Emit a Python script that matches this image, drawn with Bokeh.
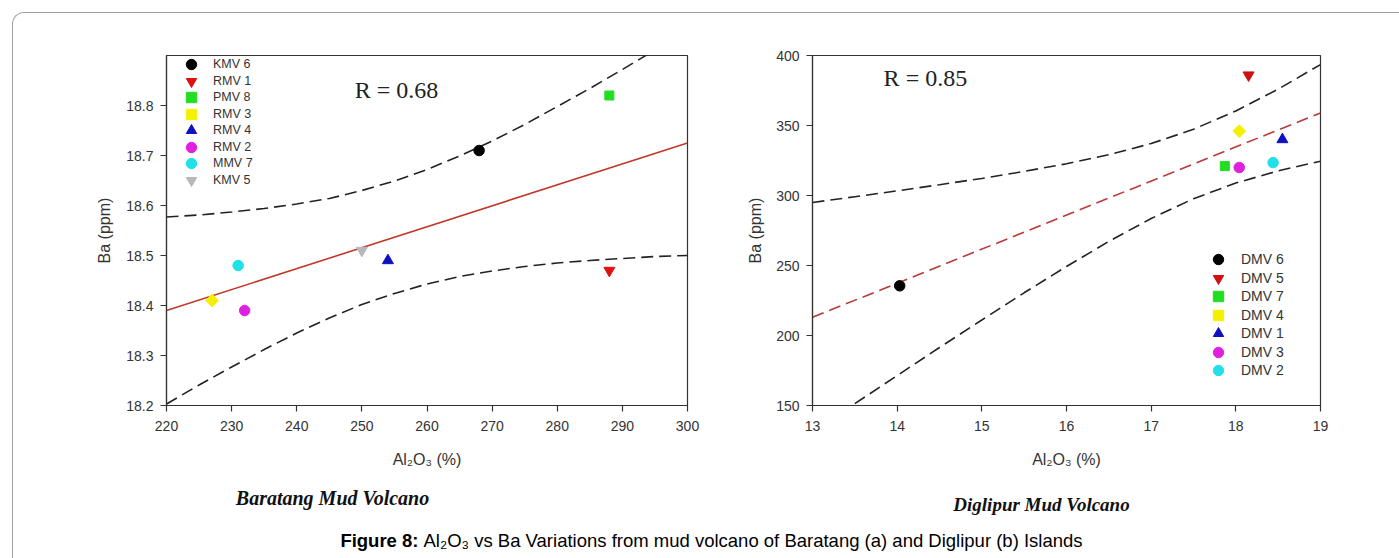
import math
from bokeh.plotting import figure
from bokeh.models import Range1d, FixedTicker, NumeralTickFormatter, Legend, LegendItem
from bokeh.layouts import column, row
from bokeh.embed import file_html
from bokeh.resources import INLINE
from bokeh.core.properties import value

# ---------------- data : Baratang mud volcano (panel a) ----------------
bar_labels = ["KMV 6", "RMV 1", "PMV 8", "RMV 3", "RMV 4", "RMV 2", "MMV 7", "KMV 5"]
bar_al2o3 = [268, 288, 288, 227, 254, 232, 231, 250]
bar_ba = [18.71, 18.47, 18.82, 18.41, 18.49, 18.39, 18.48, 18.51]
bar_fit_x = [220, 300]
bar_fit_y = [18.39, 18.725]
bar_band_x = [220, 225, 230, 235, 240, 245, 250, 255, 260, 265, 270, 275, 280, 285, 290, 295, 300]
bar_band_upper = [18.577, 18.581, 18.587, 18.594, 18.603, 18.614, 18.630, 18.649, 18.672,
                  18.699, 18.729, 18.762, 18.798, 18.834, 18.872, 18.911, 18.950]
bar_band_lower = [18.203, 18.241, 18.277, 18.312, 18.345, 18.375, 18.402, 18.424, 18.443,
                  18.458, 18.469, 18.478, 18.485, 18.490, 18.494, 18.498, 18.500]
bar_r_text = "R = 0.68"
bar_xticks = [220, 230, 240, 250, 260, 270, 280, 290, 300]
bar_yticks = [18.2, 18.3, 18.4, 18.5, 18.6, 18.7, 18.8]

# ---------------- data : Diglipur mud volcano (panel b) ----------------
dig_labels = ["DMV 6", "DMV 5", "DMV 7", "DMV 4", "DMV 1", "DMV 3", "DMV 2"]
dig_al2o3 = [14.03, 18.15, 17.87, 18.04, 18.55, 18.04, 18.44]
dig_ba = [235.5, 386, 321, 346, 340, 320, 323.5]
dig_fit_x = [13, 19]
dig_fit_y = [213, 359]
dig_upper_x = [13, 13.5, 14, 14.5, 15, 15.5, 16, 16.5, 17, 17.5, 18, 18.5, 19]
dig_band_upper = [295.0, 299.1, 303.3, 307.7, 312.2, 317.2, 322.7, 329.1, 337.1, 347.3, 360.4, 376.0, 393.5]
dig_lower_x = [13.5, 14, 14.5, 15, 15.5, 16, 16.5, 17, 17.5, 18, 18.5, 19]
dig_band_lower = [151.3, 171.4, 191.4, 211.1, 230.5, 249.3, 267.2, 283.6, 297.7, 308.9, 317.6, 324.5]
dig_r_text = "R = 0.85"
dig_xticks = [13, 14, 15, 16, 17, 18, 19]
dig_yticks = [150, 200, 250, 300, 350, 400]

x_label = "Al\u2082O\u2083 (%)"
y_label = "Ba (ppm)"
title_a = "Baratang Mud Volcano"
title_b = "Diglipur Mud Volcano"
caption_bold = "Figure 8:"
caption_rest = "Al\u2082O\u2083 vs Ba Variations from mud volcano of Baratang (a) and Diglipur (b) Islands"

# ---------------- styles ----------------
SANS = "Liberation Sans"
SERIF = "Liberation Serif"
INK = "#333333"
bar_markers = ["circle", "inverted_triangle", "square", "square", "triangle", "circle", "circle", "inverted_triangle"]
bar_colors = ["#000000", "#e01010", "#22dd22", "#f5f000", "#1010c0", "#e020e0", "#20e0e8", "#b8b8b8"]
dig_markers = ["circle", "inverted_triangle", "square", "square", "triangle", "circle", "circle"]
dig_colors = ["#000000", "#d01010", "#22dd22", "#f5f000", "#1010c0", "#e020e0", "#20e0e8"]


def marker_kw(m):
    if m == "square":
        return dict(size=9)
    if m in ("triangle", "inverted_triangle"):
        return dict(size=11)
    return dict(size=10.5)


def style_axes(p, xticks, yticks, yfmt, xstand, ystand):
    p.grid.visible = False
    p.outline_line_color = INK
    p.outline_line_width = 1.2
    p.background_fill_color = "white"
    p.border_fill_color = None
    p.xaxis.ticker = FixedTicker(ticks=xticks, minor_ticks=[])
    p.yaxis.ticker = FixedTicker(ticks=yticks, minor_ticks=[])
    p.xaxis.formatter = NumeralTickFormatter(format="0")
    p.yaxis.formatter = NumeralTickFormatter(format=yfmt)
    for ax in (p.xaxis[0], p.yaxis[0]):
        ax.axis_line_color = INK
        ax.axis_line_width = 1.2
        ax.major_tick_line_color = INK
        ax.major_tick_line_width = 1.2
        ax.major_tick_out = 6
        ax.major_tick_in = 0
        ax.minor_tick_out = 0
        ax.minor_tick_in = 0
        ax.major_label_text_font = SANS
        ax.major_label_text_font_size = "14px"
        ax.major_label_text_color = INK
        ax.axis_label_text_font = SANS
        ax.axis_label_text_font_size = "16px"
        ax.axis_label_text_font_style = "normal"
        ax.axis_label_text_color = INK
    p.xaxis.major_label_standoff = 9
    p.yaxis.major_label_standoff = 7
    p.xaxis.axis_label = x_label
    p.yaxis.axis_label = y_label
    p.xaxis.axis_label_standoff = xstand
    p.yaxis.axis_label_standoff = ystand


def add_legend(p, items, loc, fsize, spacing, standoff):
    # legend markers are drawn at 0.4 x the glyph box, so a 26 px box gives ~10 px markers;
    # interleaving two legends gives the tight row pitch of the original.
    leg = Legend(items=items, location=loc, padding=0, margin=0, spacing=spacing,
                 glyph_width=26, glyph_height=26, label_height=26, label_standoff=standoff,
                 label_text_font=SANS, label_text_font_size=fsize, label_text_color=INK,
                 border_line_color=None, background_fill_alpha=0)
    p.add_layout(leg)


# ---------------- panel a ----------------
p1 = figure(width=707, height=467, x_range=Range1d(220, 300), y_range=Range1d(18.2, 18.9),
            output_backend="svg", toolbar_location=None,
            min_border_left=153, min_border_right=33, min_border_top=33, min_border_bottom=75)
style_axes(p1, bar_xticks, bar_yticks, "0.0", 17, 10)
p1.line(bar_band_x, bar_band_upper, line_color="#222222", line_width=1.6, line_dash="12 6")
p1.line(bar_band_x, bar_band_lower, line_color="#222222", line_width=1.6, line_dash="12 6")
p1.line(bar_fit_x, bar_fit_y, line_color="#c0392b", line_width=1.6)
items1 = []
for lab, xv, yv, m, c in zip(bar_labels, bar_al2o3, bar_ba, bar_markers, bar_colors):
    ang = math.pi / 4 if lab == "RMV 3" else 0
    r = p1.scatter([xv], [yv], marker=m, fill_color=c, line_color=c, angle=ang, **marker_kw(m))
    items1.append(LegendItem(label=lab, renderers=[r]))
p1.text(x=[248.9], y=[18.832], text=[bar_r_text], text_font=value(SERIF), text_font_size="24px",
        text_baseline="middle", text_align="left", text_color="#222222")
add_legend(p1, items1[0::2], (12, 229), "12.5px", 7, 9)
add_legend(p1, items1[1::2], (12, 212.5), "12.5px", 7, 9)

# ---------------- panel b ----------------
p2 = figure(width=679, height=467, x_range=Range1d(13, 19), y_range=Range1d(150, 400),
            output_backend="svg", toolbar_location=None,
            min_border_left=92, min_border_right=79, min_border_top=42, min_border_bottom=75)
style_axes(p2, dig_xticks, dig_yticks, "0", 17, 9)
p2.line(dig_upper_x, dig_band_upper, line_color="#222222", line_width=1.6, line_dash="12 6")
p2.line(dig_lower_x, dig_band_lower, line_color="#222222", line_width=1.6, line_dash="12 6")
p2.line(dig_fit_x, dig_fit_y, line_color="#b83a3a", line_width=1.6, line_dash="12 6")
items2 = []
for lab, xv, yv, m, c in zip(dig_labels, dig_al2o3, dig_ba, dig_markers, dig_colors):
    ang = math.pi / 4 if lab == "DMV 4" else 0
    r = p2.scatter([xv], [yv], marker=m, fill_color=c, line_color=c, angle=ang, **marker_kw(m))
    items2.append(LegendItem(label=lab, renderers=[r]))
p2.text(x=[13.84], y=[383.6], text=[dig_r_text], text_font=value(SERIF), text_font_size="24px",
        text_baseline="middle", text_align="left", text_color="#222222")
add_legend(p2, items2[0::2], (393, 22), "14px", 11, 10)
add_legend(p2, items2[1::2], (393, 40.5), "14px", 11, 10)

# ---------------- captions ----------------
pc = figure(width=1386, height=78, x_range=Range1d(13, 1399), y_range=Range1d(558, 480),
            output_backend="svg", toolbar_location=None, min_border=0,
            x_axis_type=None, y_axis_type=None)
pc.outline_line_color = None
pc.border_fill_color = None
pc.background_fill_color = None
pc.text(x=[332], y=[497], text=[title_a], text_font=value(SERIF),
        text_font_size="20px", text_font_style="bold italic", text_align="center",
        text_baseline="middle", text_color="#111111")
pc.text(x=[1041], y=[504], text=[title_b], text_font=value(SERIF),
        text_font_size="19px", text_font_style="bold italic", text_align="center",
        text_baseline="middle", text_color="#111111")
pc.text(x=[418], y=[540], text=[caption_bold], text_font=value(SANS), text_font_size="18.5px",
        text_font_style="bold", text_align="right", text_baseline="middle", text_color="#000000")
pc.text(x=[423], y=[540], text=[caption_rest], text_font=value(SANS), text_font_size="18.5px",
        text_align="left", text_baseline="middle", text_color="#000000")

layout = column(row(p1, p2), pc, margin=(12, 0, 0, 12),
                styles={"border-top": "1px solid #a0a0a0", "border-left": "1px solid #a0a0a0",
                        "border-top-left-radius": "12px"})

open("out.html", "w").write(file_html(layout, INLINE))
